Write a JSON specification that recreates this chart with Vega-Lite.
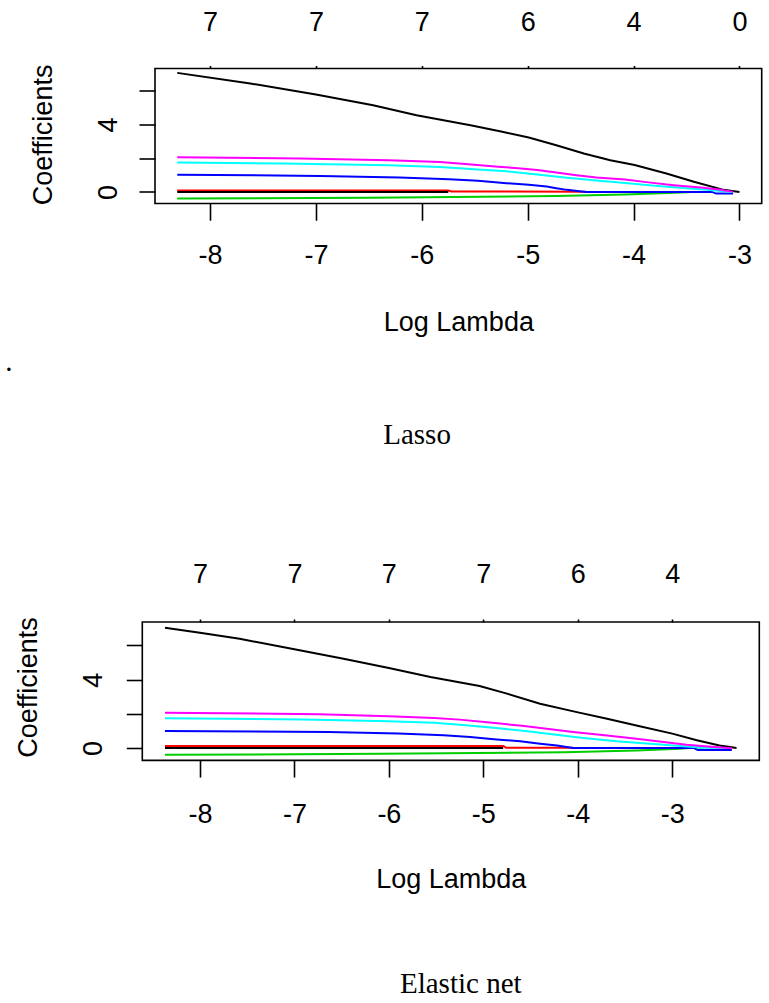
{
 "$schema": "https://vega.github.io/schema/vega-lite/v6.json",
 "background": "white",
 "padding": {"left": 4, "top": 6.5, "right": 0, "bottom": 0},
 "config": {
  "view": {"stroke": "#000", "strokeWidth": 1.6},
  "axis": {"grid": false, "domain": false, "tickColor": "#000", "tickWidth": 1.6, "labelFont": "Liberation Sans", "labelFontSize": 27, "labelColor": "#000", "titleFont": "Liberation Sans", "titleFontSize": 27, "titleFontWeight": "normal", "titleColor": "#000", "labelFlush": false, "labelOverlap": false, "labelBound": false}
 },
 "datasets": {
  "lasso": [
   {"v":"V1","l":-8.31,"c":7.07},{"v":"V1","l":-7.62,"c":6.44},{"v":"V1","l":-7.0,"c":5.78},{"v":"V1","l":-6.46,"c":5.15},{"v":"V1","l":-6.05,"c":4.55},{"v":"V1","l":-5.54,"c":3.96},{"v":"V1","l":-5.24,"c":3.57},{"v":"V1","l":-4.99,"c":3.23},{"v":"V1","l":-4.73,"c":2.77},{"v":"V1","l":-4.47,"c":2.28},{"v":"V1","l":-4.22,"c":1.88},{"v":"V1","l":-3.99,"c":1.6},{"v":"V1","l":-3.69,"c":1.09},{"v":"V1","l":-3.43,"c":0.6},{"v":"V1","l":-3.15,"c":0.12},{"v":"V1","l":-3.0,"c":0.0},
   {"v":"V2","l":-8.31,"c":0.08},{"v":"V2","l":-5.75,"c":0.08},{"v":"V2","l":-5.72,"c":0.02},{"v":"V2","l":-4.45,"c":0.01},
   {"v":"V3","l":-8.31,"c":-0.39},{"v":"V3","l":-6.49,"c":-0.345},{"v":"V3","l":-4.73,"c":-0.25},{"v":"V3","l":-4.08,"c":-0.15},{"v":"V3","l":-3.61,"c":-0.05},{"v":"V3","l":-3.45,"c":0.0},
   {"v":"V4","l":-8.31,"c":1.02},{"v":"V4","l":-6.96,"c":0.95},{"v":"V4","l":-6.21,"c":0.85},{"v":"V4","l":-5.74,"c":0.75},{"v":"V4","l":-5.47,"c":0.66},{"v":"V4","l":-5.2,"c":0.52},{"v":"V4","l":-4.99,"c":0.42},{"v":"V4","l":-4.82,"c":0.32},{"v":"V4","l":-4.73,"c":0.22},{"v":"V4","l":-4.63,"c":0.12},{"v":"V4","l":-4.45,"c":0.0},{"v":"V4","l":-3.26,"c":0.0},{"v":"V4","l":-3.22,"c":-0.1},{"v":"V4","l":-3.06,"c":-0.1},
   {"v":"V5","l":-8.31,"c":1.74},{"v":"V5","l":-7.32,"c":1.68},{"v":"V5","l":-6.31,"c":1.58},{"v":"V5","l":-5.83,"c":1.48},{"v":"V5","l":-5.47,"c":1.33},{"v":"V5","l":-5.2,"c":1.22},{"v":"V5","l":-4.91,"c":1.03},{"v":"V5","l":-4.63,"c":0.84},{"v":"V5","l":-4.35,"c":0.67},{"v":"V5","l":-4.08,"c":0.53},{"v":"V5","l":-3.8,"c":0.37},{"v":"V5","l":-3.5,"c":0.22},{"v":"V5","l":-3.31,"c":0.12},{"v":"V5","l":-3.12,"c":0.02},{"v":"V5","l":-3.06,"c":0.0},
   {"v":"V6","l":-8.31,"c":2.06},{"v":"V6","l":-7.15,"c":1.99},{"v":"V6","l":-6.31,"c":1.88},{"v":"V6","l":-5.83,"c":1.77},{"v":"V6","l":-5.56,"c":1.64},{"v":"V6","l":-5.28,"c":1.5},{"v":"V6","l":-5.09,"c":1.41},{"v":"V6","l":-4.91,"c":1.3},{"v":"V6","l":-4.73,"c":1.15},{"v":"V6","l":-4.54,"c":0.99},{"v":"V6","l":-4.35,"c":0.85},{"v":"V6","l":-4.08,"c":0.73},{"v":"V6","l":-3.88,"c":0.58},{"v":"V6","l":-3.62,"c":0.4},{"v":"V6","l":-3.34,"c":0.24},{"v":"V6","l":-3.18,"c":0.13},{"v":"V6","l":-3.06,"c":0.0},
   {"v":"V7","l":-8.31,"c":0.0},{"v":"V7","l":-5.75,"c":0.0}
  ],
  "enet": [
   {"v":"V1","l":-8.37,"c":7.04},{"v":"V1","l":-8.0,"c":6.74},{"v":"V1","l":-7.58,"c":6.39},{"v":"V1","l":-7.0,"c":5.77},{"v":"V1","l":-6.48,"c":5.22},{"v":"V1","l":-6.0,"c":4.68},{"v":"V1","l":-5.56,"c":4.15},{"v":"V1","l":-5.04,"c":3.63},{"v":"V1","l":-4.75,"c":3.18},{"v":"V1","l":-4.4,"c":2.59},{"v":"V1","l":-4.01,"c":2.1},{"v":"V1","l":-3.69,"c":1.71},{"v":"V1","l":-3.38,"c":1.32},{"v":"V1","l":-3.0,"c":0.84},{"v":"V1","l":-2.74,"c":0.45},{"v":"V1","l":-2.5,"c":0.15},{"v":"V1","l":-2.32,"c":0.0},
   {"v":"V2","l":-8.37,"c":0.12},{"v":"V2","l":-4.79,"c":0.12},{"v":"V2","l":-4.76,"c":0.02},{"v":"V2","l":-4.05,"c":0.01},
   {"v":"V3","l":-8.37,"c":-0.4},{"v":"V3","l":-6.09,"c":-0.34},{"v":"V3","l":-4.14,"c":-0.245},{"v":"V3","l":-3.38,"c":-0.15},{"v":"V3","l":-2.92,"c":-0.05},{"v":"V3","l":-2.76,"c":0.03},{"v":"V3","l":-2.67,"c":0.03},
   {"v":"V4","l":-8.37,"c":1.0},{"v":"V4","l":-6.64,"c":0.94},{"v":"V4","l":-5.9,"c":0.845},{"v":"V4","l":-5.42,"c":0.75},{"v":"V4","l":-5.14,"c":0.64},{"v":"V4","l":-4.86,"c":0.5},{"v":"V4","l":-4.61,"c":0.39},{"v":"V4","l":-4.4,"c":0.25},{"v":"V4","l":-4.22,"c":0.15},{"v":"V4","l":-4.12,"c":0.06},{"v":"V4","l":-4.05,"c":0.0},{"v":"V4","l":-2.77,"c":0.0},{"v":"V4","l":-2.73,"c":-0.12},{"v":"V4","l":-2.37,"c":-0.12},
   {"v":"V5","l":-8.37,"c":1.74},{"v":"V5","l":-6.91,"c":1.67},{"v":"V5","l":-6.0,"c":1.565},{"v":"V5","l":-5.52,"c":1.47},{"v":"V5","l":-5.25,"c":1.36},{"v":"V5","l":-4.86,"c":1.17},{"v":"V5","l":-4.51,"c":0.97},{"v":"V5","l":-4.23,"c":0.78},{"v":"V5","l":-3.94,"c":0.58},{"v":"V5","l":-3.59,"c":0.39},{"v":"V5","l":-3.24,"c":0.25},{"v":"V5","l":-2.91,"c":0.12},{"v":"V5","l":-2.67,"c":0.02},{"v":"V5","l":-2.4,"c":0.0},
   {"v":"V6","l":-8.37,"c":2.06},{"v":"V6","l":-6.74,"c":1.98},{"v":"V6","l":-6.0,"c":1.86},{"v":"V6","l":-5.52,"c":1.76},{"v":"V6","l":-5.25,"c":1.66},{"v":"V6","l":-4.96,"c":1.5},{"v":"V6","l":-4.59,"c":1.3},{"v":"V6","l":-4.33,"c":1.12},{"v":"V6","l":-4.05,"c":0.93},{"v":"V6","l":-3.69,"c":0.73},{"v":"V6","l":-3.38,"c":0.54},{"v":"V6","l":-3.09,"c":0.35},{"v":"V6","l":-2.85,"c":0.19},{"v":"V6","l":-2.59,"c":0.07},{"v":"V6","l":-2.37,"c":-0.02},
   {"v":"V7","l":-8.37,"c":0.0},{"v":"V7","l":-4.79,"c":0.0}
  ]
 },
 "concat": [
  {
   "width": 606.7,
   "height": 135,
   "layer": [
    {
     "data": {"name": "lasso"},
     "mark": {"type": "line", "strokeWidth": 2},
     "encoding": {
      "x": {"field": "l", "type": "quantitative",
            "scale": {"domain": [-8.52, -2.79], "nice": false, "zero": false},
            "axis": {"title": "Log Lambda", "orient": "bottom", "values": [-8, -7, -6, -5, -4, -3], "labelExpr": "'' + datum.value", "tickSize": 16.7, "labelPadding": 43.3, "labelBaseline": "alphabetic", "titleBaseline": "alphabetic", "titleX": 303.35, "titleY": 126.7}},
      "y": {"field": "c", "type": "quantitative", "title": "Coefficients",
            "scale": {"domain": [-0.69, 7.33], "nice": false, "zero": false},
            "axis": {"orient": "left", "values": [0, 2, 4, 6], "labelExpr": "datum.value == 0 ? '0' : datum.value == 4 ? '4' : ''", "tickSize": 16, "labelAngle": 270, "labelAlign": "center", "labelBaseline": "alphabetic", "labelPadding": 22.3, "titleAngle": 270, "titleAlign": "center", "titleBaseline": "alphabetic", "titleX": -103.3, "titleY": 65.9}},
      "color": {"field": "v", "type": "nominal", "legend": null,
                "scale": {"domain": ["V1","V2","V3","V4","V5","V6","V7"], "range": ["#000000","#FF0000","#00CD00","#0000FF","#00FFFF","#FF00FF","#000000"]}}
     }
    },
    {
     "data": {"values": [{"label": "."}]},
     "mark": {"type": "text", "font": "Liberation Serif", "fontSize": 29, "align": "center", "baseline": "alphabetic", "color": "#000"},
     "encoding": {
      "text": {"field": "label"},
      "x": {"datum": -9.899, "type": "quantitative",
            "axis": {"orient": "top", "values": [-8, -7, -6, -5, -4, -3], "labelExpr": "datum.value <= -6 ? '7' : datum.value == -5 ? '6' : datum.value == -4 ? '4' : '0'", "tickSize": 3, "labelPadding": 35.3, "labelBaseline": "alphabetic", "title": null}},
      "y": {"datum": -10.62, "type": "quantitative", "title": "Coefficients"}
     }
    },
    {
     "data": {"values": [{"label": "Lasso"}]},
     "mark": {"type": "text", "font": "Liberation Serif", "fontSize": 29, "align": "center", "baseline": "alphabetic", "color": "#000"},
     "encoding": {
      "text": {"field": "label"},
      "x": {"datum": -6.045, "type": "quantitative", "axis": null},
      "y": {"datum": -14.99, "type": "quantitative", "title": "Coefficients"}
     }
    }
   ],
   "resolve": {"axis": {"x": "independent"}}
  },
  {
   "width": 604.3,
   "height": 138.4,
   "view": {"stroke": null},
   "layer": [
    {
     "data": {"values": [{"frame": "box"}]},
     "mark": {"type": "rect", "filled": false, "stroke": "#000", "strokeWidth": 1.6},
     "encoding": {
      "x": {"datum": -8.61, "type": "quantitative",
            "scale": {"domain": [-8.4756, -2.079], "nice": false, "zero": false},
            "axis": {"title": "Log Lambda", "orient": "bottom", "values": [-8, -7, -6, -5, -4, -3], "labelExpr": "'' + datum.value", "tickSize": 16.7, "labelPadding": 44.9, "labelBaseline": "alphabetic", "titleBaseline": "alphabetic", "titleX": 295.8, "titleY": 126.7}},
      "x2": {"datum": -2.079},
      "y": {"datum": -0.725, "type": "quantitative",
            "scale": {"domain": [-0.725, 7.37], "nice": false, "zero": false},
            "axis": {"title": "Coefficients", "orient": "left", "offset": 12.7, "values": [0, 2, 4, 6], "labelExpr": "datum.value == 0 ? '0' : datum.value == 4 ? '4' : ''", "tickSize": 16, "labelAngle": 270, "labelAlign": "center", "labelBaseline": "alphabetic", "labelPadding": 24.6, "titleAngle": 270, "titleAlign": "center", "titleBaseline": "alphabetic", "titleX": -105.6, "titleY": 65}},
      "y2": {"datum": 7.37}
     }
    },
    {
     "data": {"name": "enet"},
     "mark": {"type": "line", "strokeWidth": 2},
     "encoding": {
      "x": {"field": "l", "type": "quantitative", "axis": null},
      "y": {"field": "c", "type": "quantitative", "title": "Coefficients"},
      "color": {"field": "v", "type": "nominal", "legend": null,
                "scale": {"domain": ["V1","V2","V3","V4","V5","V6","V7"], "range": ["#000000","#FF0000","#00CD00","#0000FF","#00FFFF","#FF00FF","#000000"]}}
     }
    },
    {
     "data": {"values": [{"label": "Elastic net"}]},
     "mark": {"type": "text", "font": "Liberation Serif", "fontSize": 29, "align": "center", "baseline": "alphabetic", "color": "#000"},
     "encoding": {
      "text": {"field": "label"},
      "x": {"datum": -5.239, "type": "quantitative",
            "axis": {"orient": "top", "values": [-8, -7, -6, -5, -4, -3], "labelExpr": "datum.value <= -5 ? '7' : datum.value == -4 ? '6' : '4'", "tickSize": 3, "labelPadding": 36.3, "labelBaseline": "alphabetic", "title": null}},
      "y": {"datum": -14.32, "type": "quantitative", "title": "Coefficients"}
     }
    }
   ],
   "resolve": {"axis": {"x": "independent"}}
  }
 ],
 "columns": 1,
 "spacing": 108.5
}
